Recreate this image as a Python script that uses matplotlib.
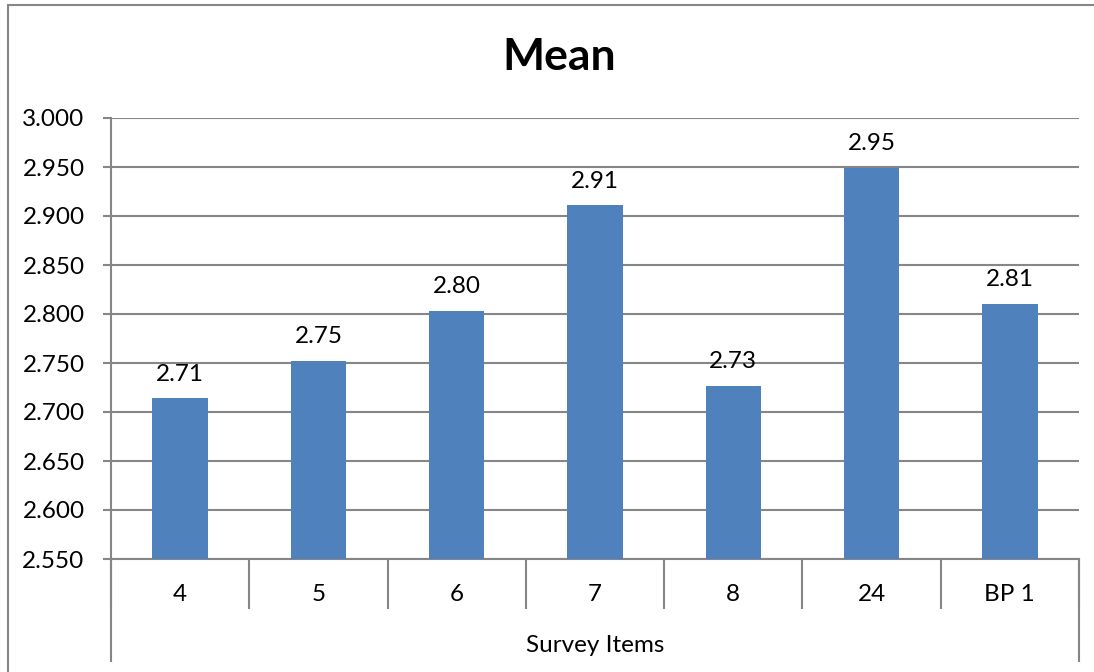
import matplotlib.pyplot as plt
from matplotlib.patches import Rectangle
import matplotlib.transforms as mtransforms

plt.rcParams['font.family'] = ['Lato', 'DejaVu Sans']

items = ['4', '5', '6', '7', '8', '24', 'BP 1']
means = [2.714, 2.752, 2.803, 2.911, 2.727, 2.949, 2.810]
yticks = [2.550, 2.600, 2.650, 2.700, 2.750, 2.800, 2.850, 2.900, 2.950, 3.000]

bar_color = '#4F81BD'
line_color = '#868686'
fs = 17.5

fig = plt.figure(figsize=(10.94, 6.72), dpi=100)
W, H = 1094, 672

# chart area frame (runs off the right and bottom edges)
fig.patches.append(Rectangle((8 / W, -0.1), 1.2, 1 - 5 / H + 0.1,
                             transform=fig.transFigure, fill=False,
                             edgecolor=line_color, linewidth=1.5))

left, right, top, bottom = 111, 1079, 118, 559
ax = fig.add_axes([left / W, 1 - bottom / H, (right - left) / W, (bottom - top) / H])

x = list(range(len(items)))
ax.bar(x, means, width=0.4, color=bar_color, zorder=3)
for xi, m in zip(x, means):
    ax.text(xi, m + 0.014, f'{m:.2f}', ha='center', va='bottom', fontsize=fs)

ax.set_xlim(-0.5, len(items) - 0.5)
ax.set_ylim(yticks[0], yticks[-1])
ax.set_yticks(yticks)
ax.set_yticklabels([f'{t:.3f}' for t in yticks], fontsize=fs)
ax.yaxis.grid(True, color=line_color, linewidth=1.5, zorder=0)
ax.tick_params(axis='y', length=6, width=1.5, color=line_color, pad=13)

# category labels centred under the bars, separators at category boundaries
ax.set_xticks(x)
ax.set_xticklabels(items, fontsize=fs)
ax.set_xticks([i - 0.5 for i in range(len(items) + 1)], minor=True)
ax.tick_params(axis='x', which='major', length=0, pad=18)
ax.tick_params(axis='x', which='minor', length=36, width=1.5, color=line_color)

for s in ['top', 'right']:
    ax.spines[s].set_visible(False)
for s in ['left', 'bottom']:
    ax.spines[s].set_color(line_color)
    ax.spines[s].set_linewidth(1.5)

# outer group lines and group label
trans = mtransforms.blended_transform_factory(ax.transData, ax.transAxes)
for edge in [-0.5, len(items) - 0.5]:
    ax.plot([edge, edge], [0, -102 / (bottom - top)], color=line_color,
            linewidth=1.5, transform=trans, clip_on=False)
ax.text((len(items) - 1) / 2, -86 / (bottom - top), 'Survey Items', transform=trans,
        ha='center', va='center', fontsize=fs)

fig.text(559 / W, 1 - 57 / H, 'Mean', ha='center', va='center',
         fontsize=32, fontweight='bold')

fig.savefig('out.png', dpi=100)
